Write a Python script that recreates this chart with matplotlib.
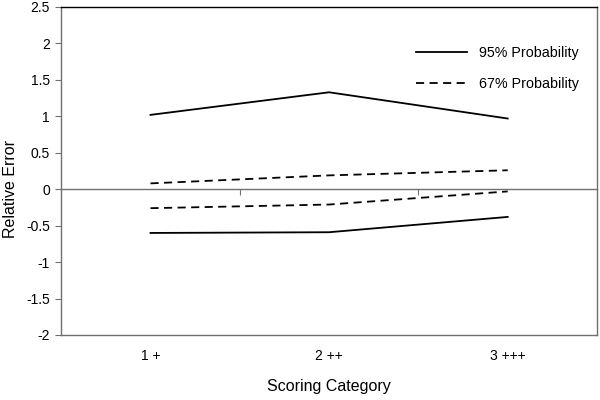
import matplotlib
matplotlib.use("Agg")
import matplotlib.pyplot as plt

plt.rcParams['font.family'] = ['Liberation Sans', 'DejaVu Sans']

# Data
categories = ['1 +', '2 ++', '3 +++']
p95_upper = [1.02, 1.33, 0.97]
p95_lower = [-0.60, -0.59, -0.38]
p67_upper = [0.08, 0.19, 0.26]
p67_lower = [-0.26, -0.21, -0.03]
yticks = [-2, -1.5, -1, -0.5, 0, 0.5, 1, 1.5, 2, 2.5]

x = list(range(len(categories)))

fig = plt.figure(figsize=(6, 4), dpi=100)
ax = fig.add_axes([0.102, 0.1625, 0.893, 0.82])

ax.plot(x, p95_upper, color='black', lw=1.3, label='95% Probability')
ax.plot(x, p95_lower, color='black', lw=1.3)
ax.plot(x, p67_upper, color='black', lw=1.3, dashes=(4.5, 3), label='67% Probability')
ax.plot(x, p67_lower, color='black', lw=1.3, dashes=(4.5, 3))

ax.set_xlim(-0.5, len(categories) - 0.5)
ax.set_ylim(-2, 2.5)
ax.set_yticks(yticks)
ax.set_yticklabels(['%g' % v for v in yticks])
ax.set_xticks(x)
ax.set_xticklabels(categories)
ax.tick_params(axis='x', length=0, pad=10, labelsize=10)
ax.tick_params(axis='y', length=4, width=0.8, color='#707070', direction='out', labelsize=10, pad=4)

for side in ['left', 'right', 'bottom']:
    ax.spines[side].set_color('#707070')
    ax.spines[side].set_linewidth(1.0)
ax.spines['top'].set_color('black')
ax.spines['top'].set_linewidth(1.0)

ax.set_ylabel('Relative Error', fontsize=11.5)
ax.yaxis.set_label_coords(-0.08, 0.445)
ax.set_xlabel('Scoring Category', fontsize=11.5)
ax.xaxis.set_label_coords(0.5, -0.135)

# category axis crossing at zero, with marks between categories
ax2 = ax.twiny()
ax2.set_xlim(ax.get_xlim())
for side in ['top', 'left', 'right']:
    ax2.spines[side].set_visible(False)
ax2.spines['bottom'].set_position(('data', 0))
ax2.spines['bottom'].set_color('#707070')
ax2.spines['bottom'].set_linewidth(1.0)
ax2.xaxis.set_ticks_position('bottom')
ax2.set_xticks([i + 0.5 for i in x[:-1]])
ax2.set_xticklabels([])
ax2.tick_params(axis='x', length=4, width=0.8, color='#707070', direction='out')

leg = ax.legend(loc='upper right', bbox_to_anchor=(0.99, 0.92), frameon=False,
                fontsize=10.3, handlelength=3.6, handletextpad=0.8, labelspacing=1.15)

fig.savefig('out.png', dpi=100)
